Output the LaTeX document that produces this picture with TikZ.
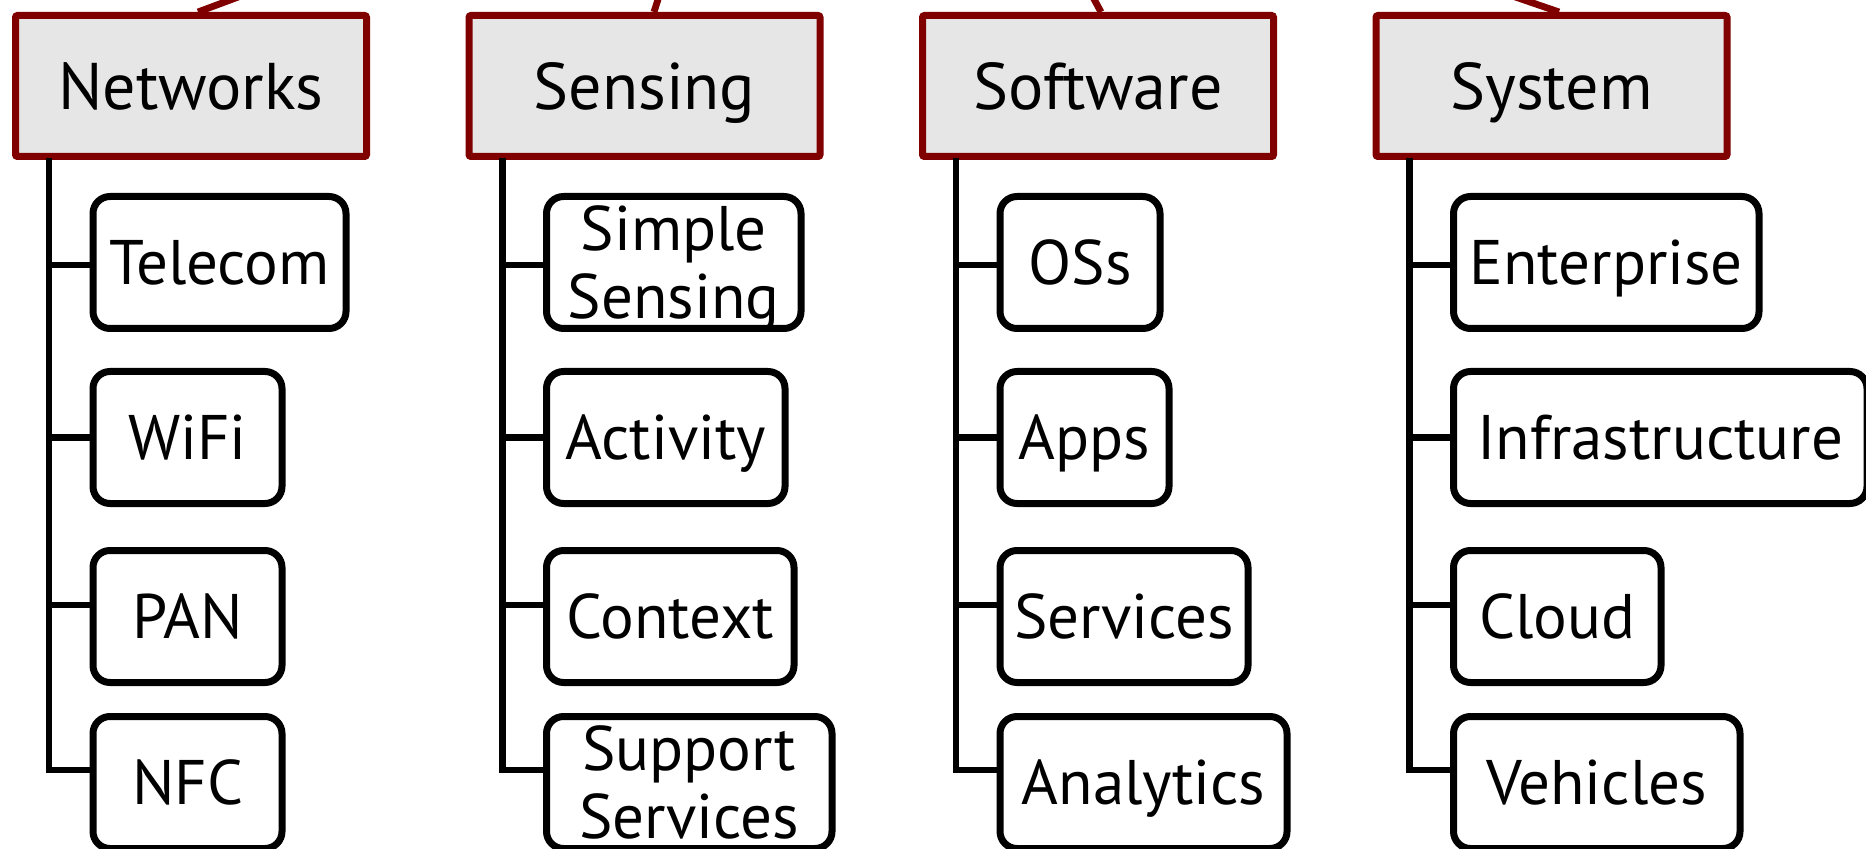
\documentclass[tikz,border=0pt]{standalone}
\usepackage{fontspec}
\setmainfont{PT Sans}
\usetikzlibrary{calc}
\definecolor{hdrred}{HTML}{800000}
\definecolor{hdrfill}{HTML}{E6E6E6}

\begin{document}
\begin{tikzpicture}[x=0.5pt,y=-0.5pt,
  header/.style={draw=hdrred, fill=hdrfill, line width=3.5pt, rounded corners=1pt,
    minimum width=175.5pt, minimum height=70.5pt, inner sep=0pt,
    font=\fontsize{33}{39}\selectfont, text height=23.1pt, text depth=0pt},
  leaf/.style={draw=black, line width=3.5pt, rounded corners=8.5pt, inner sep=0pt,
    anchor=west, minimum height=66pt, align=center,
    font=\fontsize{31.5}{34}\selectfont, text height=22pt, text depth=0pt},
  twoline/.style={text height=56pt},
  trunk/.style={draw=black, line width=3.4pt},
  spoke/.style={draw=hdrred, line width=3.4pt}
]
\useasboundingbox (0,0) rectangle (1866,849);

% links up to the parent topic
\coordinate (upN) at (257,-10);
\coordinate (upS) at (661,-10);
\coordinate (upW) at (1089,-10);
\coordinate (upY) at (1495,-10);
\draw[spoke] ($(191,86)+(7,-74)$) -- (upN);
\draw[spoke] ($(644.5,86)+(9.5,-74)$) -- (upS);
\draw[spoke] ($(1098,86)+(3,-74)$) -- (upW);
\draw[spoke] ($(1551.5,86)+(7.5,-74)$) -- (upY);

% category headers
\node[header] (hN) at (191,86)    {Networks};
\node[header] (hS) at (644.5,86)  {Sensing};
\node[header] (hW) at (1098,86)   {Software};
\node[header] (hY) at (1551.5,86) {System};

% Networks
\node[leaf, minimum width=126.5pt] (n1) at (89.5,262.5) {Telecom};
\node[leaf, minimum width=94.5pt]  (n2) at (89.5,437.5) {WiFi};
\node[leaf, minimum width=94.5pt]  (n3) at (89.5,616.5) {PAN};
\node[leaf, minimum width=94.5pt]  (n4) at (89.5,782.5) {NFC};

% Sensing
\node[leaf, twoline, minimum width=127.25pt] (s1) at (543,262.5) {Simple\\Sensing};
\node[leaf, minimum width=119.25pt] (s2) at (543,437.5) {Activity};
\node[leaf, minimum width=123.75pt] (s3) at (543,616.5) {Context};
\node[leaf, twoline, minimum width=142.75pt] (s4) at (543,782.5) {Support\\Services};

% Software
\node[leaf, minimum width=80pt]  (w1) at (996.5,262.5) {OSs};
\node[leaf, minimum width=84.5pt]  (w2) at (996.5,437.5) {Apps};
\node[leaf, minimum width=124pt] (w3) at (996.5,616.5) {Services};
\node[leaf, minimum width=143.5pt] (w4) at (996.5,782.5) {Analytics};

% System
\node[leaf, minimum width=152.75pt]  (y1) at (1450,262.5) {Enterprise};
\node[leaf, minimum width=206.75pt]  (y2) at (1450,437.5) {Infrastructure};
\node[leaf, minimum width=103.75pt]  (y3) at (1450,616.5) {Cloud};
\node[leaf, minimum width=143.25pt]  (y4) at (1450,782.5) {Vehicles};

% trunks and branches
\foreach \c/\tx in {n/49, s/502.5, w/956, y/1409.5}{
  \coordinate (\c T) at (\tx,158);
  \coordinate (\c B1) at ($(\c1.west)+(0,2.5)$);
  \coordinate (\c B2) at (\c2.west);
  \coordinate (\c B3) at ($(\c3.west)+(0,-11.5)$);
  \coordinate (\c B4) at ($(\c4.west)+(0,-12.5)$);
  \draw[trunk] (\c T) |- (\c B4);
  \draw[trunk] (\c T |- \c B1) -- (\c B1);
  \draw[trunk] (\c T |- \c B2) -- (\c B2);
  \draw[trunk] (\c T |- \c B3) -- (\c B3);
}
\end{tikzpicture}
\end{document}
